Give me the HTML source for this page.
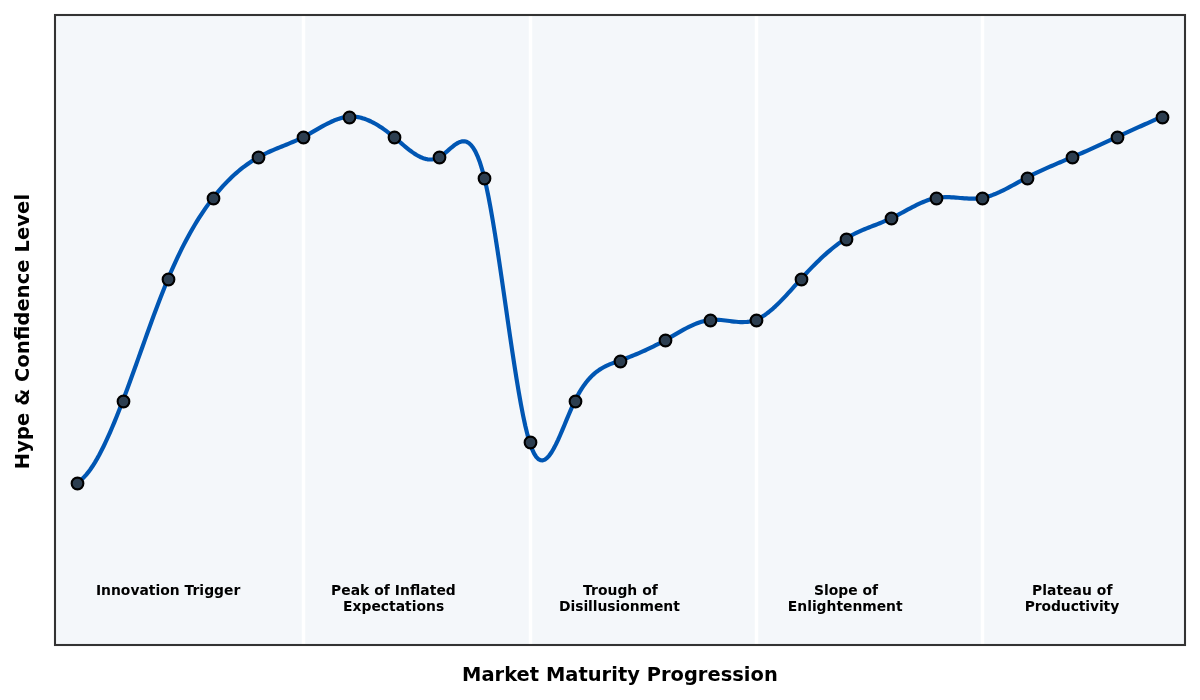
<!DOCTYPE html>
<html lang="en">
<head>
<meta charset="utf-8">
<title>Hype Cycle - Market Maturity Progression</title>
<style>
html,body{margin:0;padding:0;background:#ffffff;}
body{width:1200px;height:700px;overflow:hidden;}
svg{display:block;}
text{font-family:'DejaVu Sans','Liberation Sans',sans-serif;font-weight:700;fill:#000000;text-anchor:middle;}
.ax{font-size:19.4444px;}
.ph{font-size:13.8889px;}
.mk{fill:#2c3e50;stroke:#000000;stroke-width:2.1000;}
</style>
</head>
<body>
<svg width="1200" height="700" viewBox="0 0 1200 700">
<defs><clipPath id="axclip"><rect x="54.8333" y="15.0000" width="1130.1667" height="630.1667"/></clipPath></defs>
<rect x="0" y="0" width="1200" height="700" fill="#ffffff"/>
<rect x="54.8333" y="15.0000" width="1130.1667" height="630.1667" fill="#f4f7fa"/>
<g clip-path="url(#axclip)" stroke="#ffffff" stroke-width="3.4722" fill="none">
<line x1="303.5" y1="15.0" x2="303.5" y2="645.2"/>
<line x1="530.5" y1="15.0" x2="530.5" y2="645.2"/>
<line x1="756.5" y1="15.0" x2="756.5" y2="645.2"/>
<line x1="982.5" y1="15.0" x2="982.5" y2="645.2"/>
</g>
<path clip-path="url(#axclip)" d="M77.44 482.54 L79.61 481.08 L81.79 479.30 L83.96 477.22 L86.13 474.83 L88.31 472.17 L90.48 469.23 L92.66 466.02 L94.83 462.57 L97.01 458.88 L99.18 454.96 L101.35 450.82 L103.53 446.48 L105.70 441.94 L107.88 437.23 L110.05 432.34 L112.22 427.29 L114.40 422.09 L116.57 416.75 L118.75 411.29 L120.92 405.72 L123.10 400.04 L125.27 394.27 L127.44 388.42 L129.62 382.50 L131.79 376.53 L133.97 370.50 L136.14 364.44 L138.32 358.36 L140.49 352.27 L142.66 346.18 L144.84 340.09 L147.01 334.03 L149.19 328.00 L151.36 322.02 L153.54 316.09 L155.71 310.23 L157.88 304.44 L160.06 298.75 L162.23 293.16 L164.41 287.68 L166.58 282.33 L168.76 277.11 L170.93 272.03 L173.10 267.09 L175.28 262.28 L177.45 257.61 L179.63 253.07 L181.80 248.66 L183.98 244.37 L186.15 240.21 L188.32 236.17 L190.50 232.25 L192.67 228.44 L194.85 224.75 L197.02 221.17 L199.20 217.70 L201.37 214.33 L203.54 211.07 L205.72 207.91 L207.89 204.84 L210.07 201.88 L212.24 199.01 L214.42 196.22 L216.59 193.53 L218.76 190.93 L220.94 188.41 L223.11 185.98 L225.29 183.63 L227.46 181.37 L229.64 179.19 L231.81 177.08 L233.98 175.05 L236.16 173.10 L238.33 171.23 L240.51 169.43 L242.68 167.70 L244.86 166.04 L247.03 164.45 L249.20 162.93 L251.38 161.48 L253.55 160.09 L255.73 158.76 L257.90 157.50 L260.08 156.30 L262.25 155.15 L264.42 154.06 L266.60 153.00 L268.77 151.99 L270.95 151.02 L273.12 150.07 L275.30 149.15 L277.47 148.25 L279.64 147.36 L281.82 146.48 L283.99 145.60 L286.17 144.71 L288.34 143.82 L290.51 142.92 L292.69 142.00 L294.86 141.05 L297.04 140.08 L299.21 139.07 L301.39 138.02 L303.56 136.92 L305.73 135.78 L307.91 134.59 L310.08 133.38 L312.26 132.14 L314.43 130.89 L316.61 129.63 L318.78 128.38 L320.95 127.15 L323.13 125.93 L325.30 124.75 L327.48 123.62 L329.65 122.53 L331.83 121.51 L334.00 120.55 L336.17 119.68 L338.35 118.89 L340.52 118.20 L342.70 117.62 L344.87 117.15 L347.05 116.81 L349.22 116.60 L351.39 116.53 L353.57 116.60 L355.74 116.80 L357.92 117.13 L360.09 117.58 L362.27 118.14 L364.44 118.83 L366.61 119.62 L368.79 120.51 L370.96 121.51 L373.14 122.60 L375.31 123.78 L377.49 125.05 L379.66 126.40 L381.83 127.83 L384.01 129.34 L386.18 130.91 L388.36 132.55 L390.53 134.24 L392.71 136.00 L394.88 137.80 L397.05 139.65 L399.23 141.51 L401.40 143.38 L403.58 145.24 L405.75 147.06 L407.93 148.82 L410.10 150.52 L412.27 152.13 L414.45 153.63 L416.62 155.00 L418.80 156.23 L420.97 157.29 L423.15 158.17 L425.32 158.85 L427.49 159.31 L429.67 159.54 L431.84 159.50 L434.02 159.19 L436.19 158.59 L438.37 157.67 L440.54 156.43 L442.71 154.91 L444.89 153.17 L447.06 151.31 L449.24 149.41 L451.41 147.53 L453.59 145.76 L455.76 144.18 L457.93 142.87 L460.11 141.90 L462.28 141.35 L464.46 141.31 L466.63 141.85 L468.80 143.04 L470.98 144.98 L473.15 147.74 L475.33 151.39 L477.50 156.02 L479.68 161.70 L481.85 168.51 L484.02 176.53 L486.20 185.82 L488.37 196.29 L490.55 207.82 L492.72 220.26 L494.90 233.48 L497.07 247.35 L499.24 261.73 L501.42 276.50 L503.59 291.51 L505.77 306.64 L507.94 321.75 L510.12 336.71 L512.29 351.39 L514.46 365.64 L516.64 379.34 L518.81 392.36 L520.99 404.55 L523.16 415.79 L525.34 425.95 L527.51 434.88 L529.68 442.46 L531.86 448.60 L534.03 453.37 L536.21 456.84 L538.38 459.10 L540.56 460.26 L542.73 460.39 L544.90 459.58 L547.08 457.93 L549.25 455.53 L551.43 452.45 L553.60 448.79 L555.78 444.65 L557.95 440.10 L560.12 435.24 L562.30 430.16 L564.47 424.94 L566.65 419.67 L568.82 414.45 L571.00 409.36 L573.17 404.50 L575.34 399.94 L577.52 395.74 L579.69 391.89 L581.87 388.38 L584.04 385.17 L586.22 382.26 L588.39 379.62 L590.56 377.24 L592.74 375.09 L594.91 373.16 L597.09 371.43 L599.26 369.88 L601.44 368.49 L603.61 367.25 L605.78 366.12 L607.96 365.11 L610.13 364.18 L612.31 363.32 L614.48 362.51 L616.66 361.73 L618.83 360.96 L621.00 360.19 L623.18 359.40 L625.35 358.59 L627.53 357.76 L629.70 356.92 L631.88 356.06 L634.05 355.18 L636.22 354.28 L638.40 353.36 L640.57 352.42 L642.75 351.46 L644.92 350.48 L647.10 349.47 L649.27 348.45 L651.44 347.40 L653.62 346.33 L655.79 345.23 L657.97 344.11 L660.14 342.97 L662.31 341.80 L664.49 340.60 L666.66 339.38 L668.84 338.14 L671.01 336.88 L673.19 335.62 L675.36 334.35 L677.53 333.10 L679.71 331.85 L681.88 330.63 L684.06 329.44 L686.23 328.28 L688.41 327.17 L690.58 326.10 L692.75 325.10 L694.93 324.15 L697.10 323.28 L699.28 322.49 L701.45 321.78 L703.63 321.16 L705.80 320.64 L707.97 320.23 L710.15 319.94 L712.32 319.76 L714.50 319.69 L716.67 319.72 L718.85 319.82 L721.02 319.99 L723.19 320.21 L725.37 320.47 L727.54 320.75 L729.72 321.03 L731.89 321.31 L734.07 321.57 L736.24 321.79 L738.41 321.97 L740.59 322.07 L742.76 322.10 L744.94 322.04 L747.11 321.87 L749.29 321.57 L751.46 321.14 L753.63 320.56 L755.81 319.82 L757.98 318.90 L760.16 317.81 L762.33 316.57 L764.51 315.17 L766.68 313.65 L768.85 311.99 L771.03 310.21 L773.20 308.33 L775.38 306.35 L777.55 304.28 L779.73 302.13 L781.90 299.91 L784.07 297.64 L786.25 295.31 L788.42 292.95 L790.60 290.55 L792.77 288.14 L794.95 285.71 L797.12 283.28 L799.29 280.87 L801.47 278.47 L803.64 276.09 L805.82 273.75 L807.99 271.44 L810.17 269.16 L812.34 266.92 L814.51 264.71 L816.69 262.55 L818.86 260.43 L821.04 258.35 L823.21 256.33 L825.39 254.35 L827.56 252.43 L829.73 250.56 L831.91 248.75 L834.08 247.00 L836.26 245.31 L838.43 243.69 L840.60 242.13 L842.78 240.64 L844.95 239.23 L847.13 237.89 L849.30 236.62 L851.48 235.42 L853.65 234.28 L855.82 233.20 L858.00 232.16 L860.17 231.17 L862.35 230.21 L864.52 229.29 L866.70 228.39 L868.87 227.51 L871.04 226.65 L873.22 225.79 L875.39 224.94 L877.57 224.08 L879.74 223.22 L881.92 222.33 L884.09 221.43 L886.26 220.50 L888.44 219.54 L890.61 218.54 L892.79 217.49 L894.96 216.41 L897.14 215.29 L899.31 214.14 L901.48 212.98 L903.66 211.81 L905.83 210.63 L908.01 209.46 L910.18 208.30 L912.36 207.16 L914.53 206.04 L916.70 204.96 L918.88 203.92 L921.05 202.93 L923.23 201.99 L925.40 201.12 L927.58 200.32 L929.75 199.60 L931.92 198.96 L934.10 198.41 L936.27 197.97 L938.45 197.63 L940.62 197.39 L942.80 197.23 L944.97 197.16 L947.14 197.15 L949.32 197.20 L951.49 197.30 L953.67 197.43 L955.84 197.60 L958.02 197.77 L960.19 197.96 L962.36 198.14 L964.54 198.30 L966.71 198.44 L968.89 198.55 L971.06 198.61 L973.24 198.62 L975.41 198.56 L977.58 198.43 L979.76 198.21 L981.93 197.89 L984.11 197.47 L986.28 196.96 L988.46 196.35 L990.63 195.66 L992.80 194.90 L994.98 194.06 L997.15 193.15 L999.33 192.19 L1001.50 191.17 L1003.68 190.11 L1005.85 189.01 L1008.02 187.87 L1010.20 186.71 L1012.37 185.52 L1014.55 184.33 L1016.72 183.12 L1018.89 181.91 L1021.07 180.71 L1023.24 179.52 L1025.42 178.35 L1027.59 177.20 L1029.77 176.07 L1031.94 174.97 L1034.11 173.90 L1036.29 172.85 L1038.46 171.82 L1040.64 170.81 L1042.81 169.81 L1044.99 168.83 L1047.16 167.87 L1049.33 166.91 L1051.51 165.97 L1053.68 165.04 L1055.86 164.11 L1058.03 163.19 L1060.21 162.27 L1062.38 161.36 L1064.55 160.44 L1066.73 159.53 L1068.90 158.61 L1071.08 157.68 L1073.25 156.75 L1075.43 155.82 L1077.60 154.87 L1079.77 153.92 L1081.95 152.97 L1084.12 152.01 L1086.30 151.04 L1088.47 150.07 L1090.65 149.10 L1092.82 148.12 L1094.99 147.14 L1097.17 146.15 L1099.34 145.16 L1101.52 144.17 L1103.69 143.17 L1105.87 142.18 L1108.04 141.18 L1110.21 140.18 L1112.39 139.18 L1114.56 138.18 L1116.74 137.18 L1118.91 136.17 L1121.09 135.17 L1123.26 134.17 L1125.43 133.17 L1127.61 132.17 L1129.78 131.18 L1131.96 130.18 L1134.13 129.19 L1136.31 128.20 L1138.48 127.21 L1140.65 126.23 L1142.83 125.25 L1145.00 124.27 L1147.18 123.30 L1149.35 122.33 L1151.53 121.37 L1153.70 120.41 L1155.87 119.46 L1158.05 118.51 L1160.22 117.57 L1162.40 116.64" fill="none" stroke="#0056b3" stroke-width="4.1667" stroke-linecap="square" stroke-linejoin="round"/>
<g>
<text id="p0a" class="ph" x="168.100" y="595.0" textLength="144.406">Innovation Trigger</text>
<text id="p1a" class="ph" x="393.383" y="595.0" textLength="124.812">Peak of Inflated</text>
<text id="p1b" class="ph" x="393.633" y="611.0" textLength="101.062">Expectations</text>
<text id="p2a" class="ph" x="620.417" y="595.0" textLength="74.656">Trough of</text>
<text id="p2b" class="ph" x="619.417" y="611.0" textLength="120.734">Disillusionment</text>
<text id="p3a" class="ph" x="845.950" y="595.0" textLength="64.031">Slope of</text>
<text id="p3b" class="ph" x="845.200" y="611.0" textLength="114.734">Enlightenment</text>
<text id="p4a" class="ph" x="1072.233" y="595.0" textLength="80.484">Plateau of</text>
<text id="p4b" class="ph" x="1071.983" y="611.0" textLength="94.453">Productivity</text>
</g>
<g class="mk">
<circle cx="77.5" cy="483.5" r="5.8500"/>
<circle cx="123.5" cy="401.5" r="5.8500"/>
<circle cx="168.5" cy="279.5" r="5.8500"/>
<circle cx="213.5" cy="198.5" r="5.8500"/>
<circle cx="258.5" cy="157.5" r="5.8500"/>
<circle cx="303.5" cy="137.5" r="5.8500"/>
<circle cx="349.5" cy="117.5" r="5.8500"/>
<circle cx="394.5" cy="137.5" r="5.8500"/>
<circle cx="439.5" cy="157.5" r="5.8500"/>
<circle cx="484.5" cy="178.5" r="5.8500"/>
<circle cx="530.5" cy="442.5" r="5.8500"/>
<circle cx="575.5" cy="401.5" r="5.8500"/>
<circle cx="620.5" cy="361.5" r="5.8500"/>
<circle cx="665.5" cy="340.5" r="5.8500"/>
<circle cx="710.5" cy="320.5" r="5.8500"/>
<circle cx="756.5" cy="320.5" r="5.8500"/>
<circle cx="801.5" cy="279.5" r="5.8500"/>
<circle cx="846.5" cy="239.5" r="5.8500"/>
<circle cx="891.5" cy="218.5" r="5.8500"/>
<circle cx="936.5" cy="198.5" r="5.8500"/>
<circle cx="982.5" cy="198.5" r="5.8500"/>
<circle cx="1027.5" cy="178.5" r="5.8500"/>
<circle cx="1072.5" cy="157.5" r="5.8500"/>
<circle cx="1117.5" cy="137.5" r="5.8500"/>
<circle cx="1162.5" cy="117.5" r="5.8500"/>
</g>
<rect x="55" y="15" width="1130" height="630" fill="none" stroke="#333333" stroke-width="2.0833" stroke-linejoin="miter"/>
<text id="xl" class="ax" x="619.917" y="681.0" textLength="315.625">Market Maturity Progression</text>
<text id="yl" class="ax" x="29.000" y="331.583" textLength="275.375" transform="rotate(-90 29.000 331.583)">Hype &amp; Confidence Level</text>
</svg>
</body>
</html>
